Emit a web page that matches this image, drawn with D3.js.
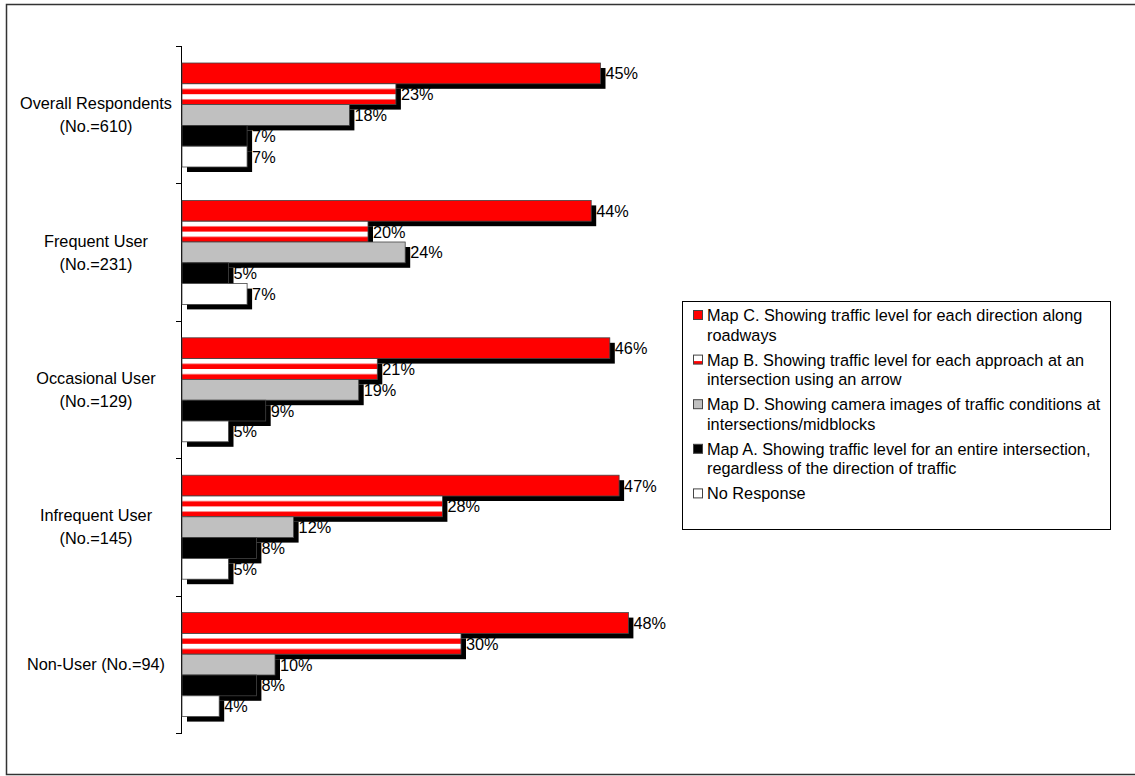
<!DOCTYPE html>
<html>
<head>
<meta charset="utf-8">
<script src="https://cdn.jsdelivr.net/npm/d3@7"></script>
<style>
  body { margin: 0; background: #fff; }
  svg { display: block; font-family: "Liberation Sans", Arial, sans-serif; }
</style>
</head>
<body>
<div id="chart"></div>
<script>
"use strict";

// categories (top to bottom), "\n" marks the wrapped line
var categories = [
  "Overall Respondents\n(No.=610)",
  "Frequent User\n(No.=231)",
  "Occasional User\n(No.=129)",
  "Infrequent User\n(No.=145)",
  "Non-User (No.=94)"
];

var seriesNames = [
  "Map C. Showing traffic level for each direction along\nroadways",
  "Map B. Showing traffic level for each approach at an\nintersection using an arrow",
  "Map D. Showing camera images of traffic conditions at\nintersections/midblocks",
  "Map A. Showing traffic level for an entire intersection,\nregardless of the direction of traffic",
  "No Response"
];

// percent values, one list per series, in category order
var mapC = [45, 44, 46, 47, 48];
var mapB = [23, 20, 21, 28, 30];
var mapD = [18, 24, 19, 12, 10];
var mapA = [7, 5, 9, 8, 8];
var noResponse = [7, 7, 5, 5, 4];

var seriesValues = [mapC, mapB, mapD, mapA, noResponse];
var seriesFill = ["#ff0000", "url(#stripes)", "#c0c0c0", "#000000", "#ffffff"];

var W = 1135, H = 776;
var FS = 16.3;

var svg = d3.select("#chart").append("svg")
  .attr("width", W).attr("height", H);

var defs = svg.append("defs");
var pat = defs.append("pattern")
  .attr("id", "stripes")
  .attr("patternUnits", "objectBoundingBox")
  .attr("width", 1).attr("height", 0.5);
pat.append("rect").attr("width", 2000).attr("height", 12).attr("fill", "#fff");
pat.append("rect").attr("y", 5.2).attr("width", 2000).attr("height", 5.2).attr("fill", "#ff0000");

// outer frame
svg.append("rect")
  .attr("x", 6.5).attr("y", 4.5)
  .attr("width", W).attr("height", 770)
  .attr("fill", "none").attr("stroke", "#333").attr("stroke-width", 1.5);

// scales
var x = d3.scaleLinear().domain([0, 50]).range([182, 182 + 465]);
var y0 = d3.scaleBand().domain(categories).range([46, 733]);
var y1 = d3.scaleBand().domain(d3.range(seriesNames.length)).range([17, 17 + 104]);

// axis: line with ticks on group boundaries
var axis = svg.append("g");
axis.append("line")
  .attr("x1", 181.5).attr("x2", 181.5)
  .attr("y1", y0.range()[0]).attr("y2", y0.range()[1])
  .attr("stroke", "#000");
var bounds = categories.map(function(c) { return y0(c); }).concat([y0.range()[1]]);
axis.selectAll("line.tick").data(bounds).enter().append("line")
  .attr("class", "tick")
  .attr("x1", 176).attr("x2", 182)
  .attr("y1", function(d) { return Math.round(d) + 0.5; })
  .attr("y2", function(d) { return Math.round(d) + 0.5; })
  .attr("stroke", "#000");

// category labels
categories.forEach(function(c) {
  var lines = c.split("\n");
  var cy = y0(c) + y0.bandwidth() / 2;
  var t = svg.append("text")
    .attr("text-anchor", "middle")
    .attr("font-size", FS)
    .attr("fill", "#000");
  lines.forEach(function(l, i) {
    t.append("tspan")
      .attr("x", 96)
      .attr("y", cy + 6 + (i - (lines.length - 1) / 2) * 23)
      .text(l);
  });
});

// bars: shadow then bar, in series order inside each group
categories.forEach(function(c, ci) {
  var g = svg.append("g").attr("transform", "translate(0," + y0(c) + ")");
  seriesValues.forEach(function(vals, si) {
    var v = vals[ci];
    var by = y1(si), bh = y1.bandwidth();
    g.append("rect")
      .attr("x", x(0) + 5).attr("y", by + 5)
      .attr("width", x(v) - x(0)).attr("height", bh)
      .attr("fill", "#000");
    g.append("rect")
      .attr("x", x(0)).attr("y", by)
      .attr("width", x(v) - x(0)).attr("height", bh)
      .attr("fill", seriesFill[si])
      .attr("stroke", "#444").attr("stroke-width", 0.8);
  });
  seriesValues.forEach(function(vals, si) {
    var v = vals[ci];
    g.append("text")
      .attr("x", x(v) + 5)
      .attr("y", y1(si) + y1.bandwidth() / 2 + 6)
      .attr("font-size", FS)
      .attr("fill", "#000")
      .text(v + "%");
  });
});

// legend
var legend = svg.append("g");
legend.append("rect")
  .attr("x", 682.5).attr("y", 301.5)
  .attr("width", 428).attr("height", 228)
  .attr("fill", "#fff").attr("stroke", "#000");

seriesNames.forEach(function(name, si) {
  var ly = 315 + si * 44.6;
  var sw = legend.append("g");
  if (si === 1) {
    sw.append("rect").attr("x", 693.5).attr("y", ly - 4.5).attr("width", 9).attr("height", 9).attr("fill", "#fff");
    sw.append("rect").attr("x", 693.5).attr("y", ly + 1.5).attr("width", 9).attr("height", 3).attr("fill", "#ff0000");
    sw.append("rect").attr("x", 693.5).attr("y", ly - 4.5).attr("width", 9).attr("height", 9)
      .attr("fill", "none").attr("stroke", "#444");
  } else {
    sw.append("rect").attr("x", 693.5).attr("y", ly - 4.5).attr("width", 9).attr("height", 9)
      .attr("fill", seriesFill[si]).attr("stroke", "#444");
  }
  var t = legend.append("text").attr("font-size", FS).attr("fill", "#000");
  name.split("\n").forEach(function(l, i) {
    t.append("tspan").attr("x", 707).attr("y", ly + 6 + i * 19.5).text(l);
  });
});
</script>
</body>
</html>
